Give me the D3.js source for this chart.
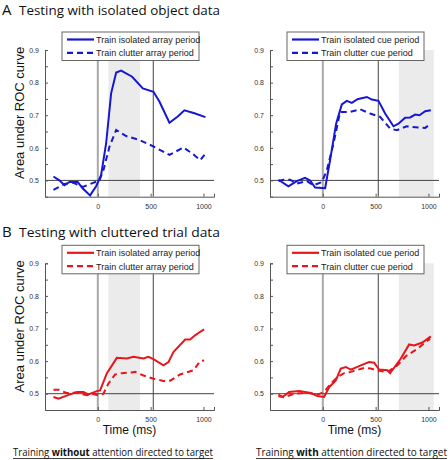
<!DOCTYPE html>
<html><head><meta charset="utf-8">
<script src="https://cdn.jsdelivr.net/npm/d3@7"></script>
<style>body{margin:0;background:#fff}svg{display:block}</style>
</head><body>
<script>
// ---- data ----
const xTicks = [0, 500, 1000];
const yTicks = [0.5, 0.6, 0.7, 0.8, 0.9];
const yMinorTicks = [0.55, 0.65, 0.75, 0.85];

// A left: isolated object data, train array period
const aArrIsoT = [-420,-364,-316,-269,-190,-142,-73,-16,31,79,126,174,221,325,426,527,583,678,757,820,915,1019];
const aArrIsoV = [0.512,0.500,0.485,0.495,0.495,0.475,0.454,0.482,0.516,0.614,0.767,0.831,0.837,0.818,0.782,0.772,0.742,0.677,0.696,0.715,0.706,0.694];
const aArrCluT = [-420,-316,-237,-142,-63,15,53,110,174,268,394,521,678,811,900,970,1010];
const aArrCluV = [0.471,0.489,0.493,0.480,0.490,0.500,0.531,0.603,0.655,0.636,0.624,0.605,0.578,0.601,0.581,0.562,0.578];
// A right: train cue period
const aCueIsoT = [-420,-326,-246,-168,-120,-73,22,69,126,180,227,275,328,417,464,527,590,669,716,779,827,874,915,969,1023];
const aCueIsoV = [0.502,0.482,0.498,0.508,0.500,0.478,0.476,0.562,0.674,0.733,0.744,0.738,0.749,0.756,0.748,0.744,0.705,0.666,0.674,0.692,0.693,0.702,0.700,0.712,0.715];
const aCueCluT = [-420,-373,-310,-246,-152,-89,-9,38,101,164,259,353,448,543,637,700,795,906,969,1023];
const aCueCluV = [0.498,0.502,0.502,0.490,0.498,0.485,0.495,0.531,0.613,0.710,0.710,0.718,0.705,0.695,0.659,0.654,0.666,0.662,0.661,0.674];
// B left: cluttered trial data, train array period
const bArrIsoT = [-420,-373,-262,-199,-136,-89,-9,22,85,180,275,337,432,479,527,621,669,716,827,874,921,969,1007];
const bArrIsoV = [0.490,0.485,0.498,0.505,0.505,0.498,0.508,0.510,0.562,0.610,0.608,0.613,0.608,0.613,0.606,0.587,0.597,0.628,0.666,0.666,0.679,0.690,0.697];
const bArrCluT = [-420,-370,-294,-199,-104,-57,6,53,100,164,227,322,353,432,527,621,685,779,906,969,1007];
const bArrCluV = [0.512,0.512,0.502,0.503,0.495,0.500,0.495,0.500,0.531,0.559,0.563,0.565,0.567,0.556,0.546,0.539,0.540,0.559,0.572,0.600,0.602];
// B right: train cue period
const bCueIsoT = [-420,-382,-319,-224,-114,-51,12,60,123,170,218,265,360,438,486,533,612,637,739,817,864,943,1023];
const bCueIsoV = [0.492,0.490,0.505,0.508,0.502,0.493,0.490,0.520,0.541,0.577,0.582,0.574,0.587,0.597,0.595,0.574,0.572,0.563,0.608,0.651,0.648,0.657,0.676];
const bCueCluT = [-420,-370,-272,-146,-51,12,76,139,202,265,391,454,533,612,707,786,896,975,1017];
const bCueCluV = [0.497,0.489,0.500,0.503,0.497,0.505,0.531,0.551,0.563,0.567,0.579,0.577,0.570,0.567,0.587,0.615,0.638,0.659,0.669];

const legendArr = ["Train isolated array period", "Train clutter array period"];
const legendCue = ["Train isolated cue period", "Train clutter cue period"];
const shadeArr = [100, 400];
const shadeCue = [720, 1050];
const eventLine = 525;

const BLUE = "#1717d2", RED = "#e8151c";

const W = 448, H = 460;
const svg = d3.select("body").append("svg").attr("width", W).attr("height", H)
  .style("font-family", "'Liberation Sans', Arial, sans-serif");

function panel(ox, oy, iso, clu, legend, shade, color, showYLabel, showXLabel) {
  const x = d3.scaleLinear().domain([-500, 1100]).range([ox, ox + 169]);
  const y = d3.scaleLinear().domain([0.45, 0.9]).range([oy + 146.7, oy]);
  const g = svg.append("g");
  // shade
  g.append("rect").attr("x", x(shade[0])).attr("y", y(0.9))
    .attr("width", x(shade[1]) - x(shade[0])).attr("height", y(0.45) - y(0.9))
    .attr("fill", "#ebebeb");
  // zero line
  g.append("line").attr("x1", x(0)).attr("x2", x(0)).attr("y1", y(0.9)).attr("y2", y(0.45))
    .attr("stroke", "#a8a8a8").attr("stroke-width", 2);
  // event line
  g.append("line").attr("x1", x(eventLine)).attr("x2", x(eventLine)).attr("y1", y(0.9)).attr("y2", y(0.45))
    .attr("stroke", "#444").attr("stroke-width", 1);
  // chance line
  g.append("line").attr("x1", x(-500)).attr("x2", x(1100)).attr("y1", y(0.5)).attr("y2", y(0.5))
    .attr("stroke", "#444").attr("stroke-width", 1);
  // axes
  const ax = g.append("g").attr("transform", `translate(0,${y(0.45)})`)
    .call(d3.axisBottom(x).tickValues(xTicks).tickSize(-3).tickPadding(7).tickFormat(d3.format("d")));
  const ay = g.append("g").attr("transform", `translate(${x(-500)},0)`)
    .call(d3.axisLeft(y).tickValues(yTicks.concat(yMinorTicks)).tickSize(-3).tickPadding(6)
      .tickFormat(d => yTicks.includes(d) ? d3.format(".1f")(d) : ""));
  [ax, ay].forEach(a => {
    a.select(".domain").attr("stroke", "#555");
    a.selectAll(".tick line").attr("stroke", "#555");
    a.selectAll(".tick text").attr("fill", "#333").style("font-size", "7px");
  });
  // lines
  const line = d3.line().x(d => x(d[0])).y(d => y(d[1]));
  g.append("path").datum(clu[0].map((t, i) => [t, clu[1][i]])).attr("d", line)
    .attr("fill", "none").attr("stroke", color).attr("stroke-width", 2).attr("stroke-dasharray", "6,4");
  g.append("path").datum(iso[0].map((t, i) => [t, iso[1][i]])).attr("d", line)
    .attr("fill", "none").attr("stroke", color).attr("stroke-width", 2);
  // legend
  const lx = ox + 17, ly = oy - 18;
  const lg = g.append("g");
  lg.append("rect").attr("x", lx).attr("y", ly).attr("width", 137).attr("height", 28.5)
    .attr("fill", "#fff").attr("stroke", "#666").attr("stroke-width", 1);
  legend.forEach((txt, i) => {
    const yy = ly + 7.5 + i * 13.4;
    lg.append("line").attr("x1", lx + 5).attr("x2", lx + 32).attr("y1", yy).attr("y2", yy)
      .attr("stroke", color).attr("stroke-width", 2.2).attr("stroke-dasharray", i ? "6,4" : null);
    lg.append("text").attr("x", lx + 34).attr("y", yy + 3.3).text(txt)
      .style("font-size", "9px").attr("fill", "#222");
  });
  if (showYLabel) {
    g.append("text").attr("transform", `translate(${ox - 21},${oy + 63}) rotate(-90)`)
      .attr("text-anchor", "middle").style("font-size", "13px").attr("fill", "#111")
      .text("Area under ROC curve");
  }
  if (showXLabel) {
    g.append("text").attr("x", x(300)).attr("y", oy + 171).attr("text-anchor", "middle")
      .style("font-size", "12px").attr("fill", "#111").text("Time (ms)");
  }
}

panel(45, 50, [aArrIsoT, aArrIsoV], [aArrCluT, aArrCluV], legendArr, shadeArr, BLUE, true, false);
panel(270, 50, [aCueIsoT, aCueIsoV], [aCueCluT, aCueCluV], legendCue, shadeCue, BLUE, false, false);
panel(45, 263.3, [bArrIsoT, bArrIsoV], [bArrCluT, bArrCluV], legendArr, shadeArr, RED, true, true);
panel(270, 263.3, [bCueIsoT, bCueIsoV], [bCueCluT, bCueCluV], legendCue, shadeCue, RED, false, true);

// titles
const TF = "'Open Sans', 'Noto Sans', sans-serif";
function title(yb, letter, txt) {
  svg.append("text").attr("x", 2).attr("y", yb).style("font-family", TF).style("font-size", "15px")
    .attr("fill", "#111").text(letter);
  svg.append("text").attr("x", 19).attr("y", yb).style("font-family", TF).style("font-size", "13px")
    .attr("fill", "#111").attr("textLength", 201).attr("lengthAdjust", "spacingAndGlyphs").text(txt);
}
title(15, "A", "Testing with isolated object data");
title(237, "B", "Testing with cluttered trial data");

// captions
function caption(x0, x1, parts) {
  const t = svg.append("text").attr("x", x0).attr("y", 456).style("font-family", TF)
    .style("font-size", "10px").attr("fill", "#111")
    .attr("textLength", x1 - x0).attr("lengthAdjust", "spacingAndGlyphs");
  parts.forEach(p => t.append("tspan").style("font-weight", p[1] ? "bold" : "normal").text(p[0]));
  svg.append("line").attr("x1", x0).attr("x2", x1).attr("y1", 458.5).attr("y2", 458.5)
    .attr("stroke", "#111").attr("stroke-width", 0.8);
}
caption(13, 213, [["Training ", false], ["without", true], [" attention directed to target", false]]);
caption(256, 447, [["Training ", false], ["with", true], [" attention directed to target", false]]);
</script>
</body></html>
